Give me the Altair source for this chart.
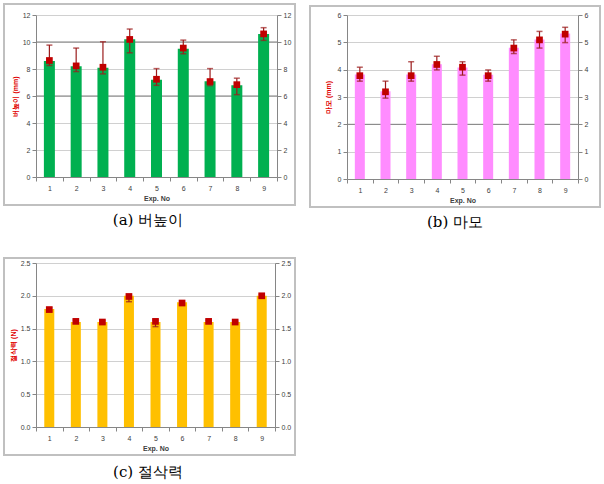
import altair as alt
import pandas as pd

exp_no = [1, 2, 3, 4, 5, 6, 7, 8, 9]

# (a) 버높이
a_bar = [8.6, 8.2, 8.1, 10.2, 7.2, 9.5, 7.1, 6.8, 10.6]
a_pt = [8.63, 8.23, 8.13, 10.19, 7.24, 9.55, 7.07, 6.84, 10.6]
a_lo = [8.26, 7.81, 7.64, 9.2, 6.79, 9.13, 6.77, 6.1, 10.12]
a_hi = [9.77, 9.55, 10.02, 10.96, 8.03, 10.14, 8.03, 7.32, 11.06]
a_ticks = [0, 2, 4, 6, 8, 10, 12]
a_dark = [6, 10]

# (b) 마모
b_bar = [3.82, 3.21, 3.82, 4.2, 4.08, 3.81, 4.8, 5.1, 5.32]
b_pt = [3.78, 3.19, 3.78, 4.19, 4.09, 3.78, 4.79, 5.09, 5.3]
b_lo = [3.58, 2.96, 3.58, 3.99, 3.8, 3.58, 4.59, 4.79, 4.99]
b_hi = [4.09, 3.58, 4.29, 4.49, 4.29, 3.99, 5.09, 5.4, 5.55]
b_ticks = [0, 1, 2, 3, 4, 5, 6]
b_dark = [2]

# (c) 절삭력
c_bar = [1.8, 1.6, 1.6, 2.0, 1.6, 1.9, 1.6, 1.6, 2.0]
c_pt = [1.79, 1.61, 1.6, 1.99, 1.61, 1.89, 1.61, 1.6, 2.0]
c_lo = [1.77, 1.59, 1.58, 1.91, 1.53, 1.87, 1.59, 1.59, 1.98]
c_hi = [1.82, 1.63, 1.62, 2.01, 1.63, 1.91, 1.63, 1.61, 2.02]
c_ticks = [0, 0.5, 1, 1.5, 2, 2.5]
c_dark = []

CAP_FONT = "DejaVu Serif, serif"
ERR = "#9b1c1c"


def panel(bar, pt, lo, hi, color, ytitle, ymax, ticks, dark, caption,
          w, h, border, cap_xy, title_pad, bar_size):
    df = pd.DataFrame({"exp": exp_no, "bar": bar, "pt": pt, "lo": lo, "hi": hi})
    one = pd.DataFrame({"k": [0]})
    base = alt.Chart(df)
    yscale = alt.Scale(domain=[0, ymax], nice=False, zero=True)
    x = alt.X("exp:O", title="Exp. No",
              scale=alt.Scale(paddingInner=0, paddingOuter=0),
              axis=alt.Axis(labelAngle=0, tickBand="extent", labelPadding=3,
                            titlePadding=3, titleFontWeight="bold",
                            titleColor="#404040"))

    frame = alt.Chart(one).mark_rect(fill="transparent", stroke="#c0c0c0",
                                     strokeWidth=2).encode(
        x=alt.value(border[0]), x2=alt.value(border[1]),
        y=alt.value(border[2]), y2=alt.value(border[3]))

    bars = base.mark_bar(color=color, size=bar_size).encode(
        x=x,
        y=alt.Y("bar:Q", scale=yscale, title=ytitle,
                axis=alt.Axis(orient="left", values=ticks, grid=True,
                              titleColor="#e00000", titleFontWeight="bold",
                              titlePadding=title_pad, labelPadding=2)))
    right = base.mark_bar(opacity=0, size=bar_size).encode(
        x=x,
        y=alt.Y("bar:Q", scale=yscale, title=None,
                axis=alt.Axis(orient="right", values=ticks, grid=False,
                              labelPadding=2)))
    layers = [frame]
    if dark:
        darkdf = pd.DataFrame({"g": dark})
        layers.append(alt.Chart(darkdf).mark_rule(color="#7f7f7f", strokeWidth=1).encode(
            y=alt.Y("g:Q", scale=yscale, axis=None)))
    err = base.mark_rule(color=ERR, strokeWidth=1.2).encode(
        x=x, y=alt.Y("lo:Q", scale=yscale, axis=None), y2="hi:Q")
    cap_lo = base.mark_tick(color=ERR, thickness=1.5, size=6).encode(
        x=x, y=alt.Y("lo:Q", scale=yscale, axis=None))
    cap_hi = base.mark_tick(color=ERR, thickness=1.5, size=6).encode(
        x=x, y=alt.Y("hi:Q", scale=yscale, axis=None))
    pts = base.mark_square(color="#c00000", size=45, opacity=1).encode(
        x=x, y=alt.Y("pt:Q", scale=yscale, axis=None))
    cap = alt.Chart(one).mark_text(font=CAP_FONT, fontSize=15, color="#000000").encode(
        x=alt.value(cap_xy[0]), y=alt.value(cap_xy[1]), text=alt.value(caption))
    layers += [bars, right, err, cap_lo, cap_hi, pts, cap]
    return alt.layer(*layers).resolve_axis(y="independent").properties(width=w, height=h)


pa = panel(a_bar, a_pt, a_lo, a_hi, "#00b050", "버높이 (mm)", 12, a_ticks, a_dark,
           "(a) 버높이", 241, 162, (-32, 259, -11, 190), (112, 205), 4, 11)
pb = panel(b_bar, b_pt, b_lo, b_hi, "#ff8cff", "마모 (mm)", 6, b_ticks, b_dark,
           "(b) 마모", 231, 164, (-37, 253, -9, 192), (108, 207), 6, 10)
pc = panel(c_bar, c_pt, c_lo, c_hi, "#ffc000", "절삭력 (N)", 2.5, c_ticks, c_dark,
           "(c) 절삭력", 239, 164, (-32, 259, -5, 192), (112, 209), 4, 10)

chart = alt.vconcat(
    alt.hconcat(pa, pb, spacing=13),
    pc, spacing=27
).properties(
    padding={"left": 3, "top": 3, "right": 0, "bottom": 0}
).configure_view(strokeWidth=0).configure_axis(
    labelFont="Liberation Sans", labelFontSize=7, labelColor="#404040",
    titleFont="Liberation Sans", titleFontSize=7,
    domainColor="#868686", tickColor="#868686", tickSize=4,
    gridColor="#d0d0d0", gridWidth=1
)

chart.save("out.html", embed_options={"renderer": "svg", "actions": False})
